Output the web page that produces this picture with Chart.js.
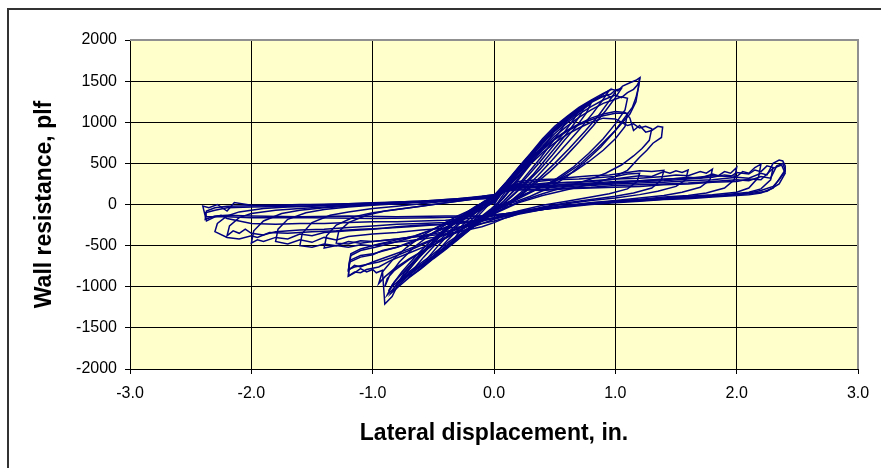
<!DOCTYPE html>
<html lang="en">
<head>
<meta charset="UTF-8">
<title>Wall resistance vs lateral displacement</title>
<script src="https://cdn.jsdelivr.net/npm/chart.js@4.4.1/dist/chart.umd.min.js"></script>
<style>
  html, body { margin: 0; padding: 0; background: #fff; }
  #wrap { width: 881px; height: 468px; }
</style>
</head>
<body>
<div id="wrap"><canvas id="grafica" width="881" height="468"></canvas></div>
<script>
// Axis ticks
const xTicks = [-3, -2, -1, 0, 1, 2, 3];
const yTicks = [-2000, -1500, -1000, -500, 0, 500, 1000, 1500, 2000];

// Test record: [displacement in., resistance plf], one array per cycle
// small cycles (steep band)
const loopA = [[0,0],[0.05,110],[0.1,220],[0.15,320],[0.2,410],[0.17,330],[0.1,170],[0.03,20],[-0.03,-60],[-0.1,-140],[-0.15,-210],[-0.2,-270],[-0.17,-200],[-0.1,-90],[-0.03,20],[0,60]];
const loopB = [[0,60],[0.1,230],[0.2,400],[0.3,560],[0.35,640],[0.3,520],[0.2,320],[0.1,130],[0.02,-20],[-0.1,-150],[-0.2,-280],[-0.3,-400],[-0.35,-460],[-0.3,-360],[-0.2,-210],[-0.1,-60],[0,70]];
const loopC = [[0,70],[0.1,240],[0.2,420],[0.3,590],[0.4,760],[0.5,910],[0.46,800],[0.38,640],[0.28,450],[0.18,260],[0.08,80],[0,-40],[-0.1,-160],[-0.2,-290],[-0.3,-420],[-0.4,-540],[-0.5,-650],[-0.46,-560],[-0.38,-430],[-0.28,-280],[-0.18,-140],[-0.08,0],[0,90]];
const loopC2 = [[0,40],[0.08,200],[0.16,350],[0.26,520],[0.36,690],[0.46,850],[0.55,980],[0.6,1020],[0.56,920],[0.48,760],[0.38,560],[0.28,380],[0.18,200],[0.08,40],[0,-70],[-0.1,-180],[-0.22,-320],[-0.34,-460],[-0.46,-600],[-0.56,-720],[-0.6,-770],[-0.55,-660],[-0.46,-500],[-0.36,-340],[-0.24,-170],[-0.12,-30],[0,60]];
const loopD = [[0,90],[0.1,250],[0.2,430],[0.3,600],[0.4,770],[0.5,920],[0.6,1040],[0.7,1150],[0.66,1040],[0.58,880],[0.48,700],[0.38,520],[0.28,350],[0.18,190],[0.08,40],[0,-60],[-0.1,-170],[-0.2,-300],[-0.3,-420],[-0.4,-540],[-0.5,-650],[-0.6,-770],[-0.7,-880],[-0.66,-780],[-0.58,-640],[-0.48,-480],[-0.38,-340],[-0.28,-210],[-0.18,-80],[-0.08,40],[0,80]];
const loopD2 = [[0,60],[0.1,240],[0.2,410],[0.3,580],[0.4,750],[0.5,900],[0.6,1030],[0.68,1110],[0.75,1190],[0.7,1060],[0.62,900],[0.52,720],[0.42,540],[0.32,360],[0.2,180],[0.1,40],[0,-80],[-0.12,-210],[-0.24,-350],[-0.36,-480],[-0.48,-610],[-0.6,-740],[-0.7,-850],[-0.76,-920],[-0.7,-790],[-0.6,-610],[-0.48,-420],[-0.36,-260],[-0.22,-100],[-0.1,20],[0,110]];
const loopE = [[0,80],[0.1,230],[0.2,400],[0.3,570],[0.4,740],[0.5,890],[0.6,1010],[0.7,1120],[0.8,1230],[0.76,1110],[0.68,950],[0.58,780],[0.48,600],[0.38,430],[0.26,250],[0.14,90],[0.04,-40],[-0.08,-160],[-0.2,-290],[-0.32,-420],[-0.44,-560],[-0.56,-690],[-0.68,-810],[-0.78,-930],[-0.74,-830],[-0.64,-660],[-0.52,-470],[-0.4,-300],[-0.28,-150],[-0.15,-20],[0,90]];
const loopF = [[0,90],[0.1,240],[0.2,420],[0.3,590],[0.4,760],[0.5,910],[0.6,1040],[0.7,1150],[0.8,1240],[0.88,1300],[0.93,1330],[0.97,1300],[1.0,1370],[0.95,1260],[0.86,1080],[0.75,890],[0.62,680],[0.5,500],[0.38,330],[0.25,160],[0.12,20],[0,-80],[-0.12,-200],[-0.25,-330],[-0.38,-460],[-0.5,-600],[-0.62,-730],[-0.74,-860],[-0.84,-1000],[-0.87,-1050],[-0.82,-940],[-0.72,-780],[-0.6,-590],[-0.48,-420],[-0.36,-270],[-0.24,-130],[-0.12,-10],[0,100]];
const loopF2 = [[0,110],[0.1,270],[0.2,440],[0.3,610],[0.4,770],[0.5,920],[0.6,1050],[0.7,1160],[0.8,1250],[0.9,1320],[0.96,1340],[1.0,1390],[1.05,1410],[1.0,1300],[0.92,1140],[0.82,960],[0.7,760],[0.58,570],[0.46,400],[0.32,230],[0.18,60],[0.05,-70],[-0.08,-180],[-0.2,-300],[-0.32,-430],[-0.44,-560],[-0.56,-690],[-0.68,-820],[-0.78,-950],[-0.88,-1100],[-0.84,-980],[-0.76,-820],[-0.64,-620],[-0.52,-440],[-0.4,-290],[-0.28,-160],[-0.14,-30],[0,80]];
const loopG = [[0,100],[0.1,260],[0.2,440],[0.3,610],[0.4,780],[0.5,930],[0.6,1060],[0.7,1170],[0.8,1260],[0.87,1310],[0.92,1360],[0.95,1390],[0.9,1280],[0.82,1120],[0.72,940],[0.6,740],[0.48,540],[0.36,350],[0.24,170],[0.12,20],[0,-90],[-0.1,-190],[-0.2,-310],[-0.3,-430],[-0.4,-550],[-0.5,-660],[-0.6,-780],[-0.7,-890],[-0.78,-990],[-0.85,-1080],[-0.8,-960],[-0.72,-820],[-0.62,-650],[-0.5,-470],[-0.38,-300],[-0.26,-150],[-0.14,-20],[0,100]];
// peak cycles
const peakH = [[0,100],[0.1,270],[0.2,450],[0.3,620],[0.4,800],[0.5,950],[0.6,1070],[0.7,1180],[0.8,1270],[0.9,1350],[0.97,1400],[1.02,1380],[1.06,1440],[1.12,1480],[1.17,1510],[1.2,1540],[1.19,1420],[1.17,1300],[1.14,1180],[1.1,1100],[1.0,900],[0.88,700],[0.75,520],[0.6,340],[0.45,200],[0.3,100],[0.15,20],[0,-60],[-0.1,-150],[-0.2,-270],[-0.3,-390],[-0.4,-510],[-0.5,-630],[-0.6,-750],[-0.7,-860],[-0.8,-1000],[-0.84,-1120],[-0.9,-1210],[-0.91,-1000],[-0.92,-800],[-0.97,-830],[-1.0,-790],[-1.05,-820],[-1.1,-780],[-1.15,-830],[-1.2,-870],[-1.19,-700],[-1.1,-640],[-1.0,-610],[-0.92,-560],[-0.8,-520],[-0.69,-470],[-0.55,-380],[-0.4,-280],[-0.25,-170],[-0.1,-50],[0,30]];
const peakI = [[0,30],[0.1,220],[0.2,390],[0.3,550],[0.4,710],[0.5,860],[0.6,990],[0.7,1100],[0.8,1190],[0.9,1270],[1.0,1330],[1.05,1300],[1.1,1360],[1.15,1400],[1.18,1450],[1.2,1510],[1.17,1250],[1.12,1100],[1.0,900],[0.85,680],[0.7,480],[0.55,330],[0.4,220],[0.25,120],[0.1,20],[0,-60],[-0.1,-150],[-0.25,-280],[-0.4,-410],[-0.55,-540],[-0.7,-670],[-0.82,-800],[-0.88,-900],[-0.9,-1000],[-0.86,-860],[-0.78,-700],[-0.66,-520],[-0.52,-360],[-0.38,-230],[-0.24,-120],[-0.1,-20],[0,20]];
const peakI2 = [[0,80],[0.1,230],[0.2,390],[0.3,540],[0.4,690],[0.5,830],[0.6,950],[0.7,1060],[0.8,1150],[0.9,1230],[1.0,1280],[1.05,1310],[1.1,1290],[1.08,1150],[1.0,980],[0.9,800],[0.78,620],[0.65,450],[0.5,300],[0.35,180],[0.2,70],[0.05,-50],[-0.1,-160],[-0.25,-290],[-0.4,-410],[-0.55,-530],[-0.7,-660],[-0.82,-780],[-0.9,-880],[-0.95,-960],[-0.92,-820],[-0.84,-680],[-0.72,-520],[-0.58,-370],[-0.44,-250],[-0.3,-140],[-0.15,-40],[0,40]];
// mid cycles after peak
const midJ = [[0,20],[0.1,200],[0.2,370],[0.3,530],[0.4,680],[0.5,800],[0.6,900],[0.7,980],[0.8,1050],[0.9,1100],[1.0,1130],[1.08,1120],[1.12,1050],[1.15,900],[1.2,960],[1.25,880],[1.3,900],[1.35,950],[1.39,940],[1.38,815],[1.31,745],[1.26,660],[1.2,575],[1.1,415],[0.98,330],[0.82,255],[0.6,180],[0.4,110],[0.2,20],[0.05,-80],[-0.1,-180],[-0.25,-290],[-0.4,-400],[-0.55,-500],[-0.7,-590],[-0.85,-680],[-0.95,-760],[-1.05,-790],[-1.1,-830],[-1.15,-820],[-1.2,-870],[-1.19,-680],[-1.1,-620],[-1.0,-600],[-0.9,-560],[-0.8,-520],[-0.7,-460],[-0.55,-380],[-0.4,-280],[-0.25,-180],[-0.1,-60],[0,30]];
const midJ2 = [[0,40],[0.1,190],[0.2,340],[0.3,490],[0.4,630],[0.5,750],[0.6,850],[0.7,930],[0.8,1000],[0.9,1050],[1.0,1040],[1.05,1000],[1.1,960],[1.15,980],[1.2,930],[1.25,950],[1.3,920],[1.28,780],[1.22,680],[1.15,590],[1.05,480],[0.92,380],[0.78,300],[0.6,220],[0.4,130],[0.2,30],[0.05,-70],[-0.1,-170],[-0.3,-300],[-0.5,-420],[-0.7,-540],[-0.85,-620],[-1.0,-700],[-1.1,-760],[-1.15,-740],[-1.2,-800],[-1.18,-620],[-1.1,-560],[-0.98,-520],[-0.85,-470],[-0.7,-410],[-0.55,-330],[-0.4,-240],[-0.25,-150],[-0.1,-40],[0,40]];
const midK = [[0,30],[0.1,190],[0.2,350],[0.3,510],[0.4,660],[0.5,790],[0.6,890],[0.7,970],[0.8,1030],[0.9,1080],[1.0,1110],[1.1,1110],[1.08,950],[1.0,800],[0.9,660],[0.78,520],[0.66,400],[0.5,280],[0.35,190],[0.2,90],[0.05,-40],[-0.1,-150],[-0.3,-290],[-0.5,-430],[-0.7,-560],[-0.85,-650],[-0.95,-700],[-1.05,-730],[-1.15,-760],[-1.2,-790],[-1.18,-600],[-1.1,-540],[-0.95,-480],[-0.8,-430],[-0.65,-380],[-0.5,-300],[-0.35,-200],[-0.2,-100],[-0.05,20],[0,50]];
const midL = [[0,50],[0.1,200],[0.2,280],[0.35,300],[0.5,310],[0.65,330],[0.8,350],[0.95,360],[1.1,390],[1.2,410],[1.3,400],[1.4,415],[1.38,300],[1.3,200],[1.15,140],[1.0,100],[0.8,60],[0.6,20],[0.4,-30],[0.2,-100],[0,-180],[-0.15,-260],[-0.3,-340],[-0.5,-400],[-0.7,-440],[-0.9,-470],[-1.0,-500],[-1.1,-490],[-1.2,-520],[-1.3,-500],[-1.4,-530],[-1.38,-380],[-1.3,-250],[-1.15,-150],[-1.0,-100],[-0.8,-60],[-0.6,-20],[-0.4,20],[-0.2,60],[0,80]];
const midL2 = [[0,80],[0.1,190],[0.2,260],[0.35,280],[0.5,300],[0.7,310],[0.9,330],[1.0,340],[1.1,370],[1.2,380],[1.18,280],[1.1,190],[0.95,130],[0.8,90],[0.6,40],[0.4,-10],[0.2,-80],[0,-160],[-0.2,-250],[-0.4,-330],[-0.6,-380],[-0.8,-420],[-1.0,-450],[-1.1,-440],[-1.2,-480],[-1.3,-470],[-1.28,-330],[-1.2,-220],[-1.05,-130],[-0.9,-80],[-0.7,-40],[-0.5,0],[-0.3,40],[-0.1,80],[0,100]];
// large pinched cycles
const bigM = [[0,80],[0.1,180],[0.2,240],[0.35,250],[0.5,270],[0.65,260],[0.8,290],[0.95,300],[1.1,330],[1.2,350],[1.3,340],[1.4,400],[1.45,380],[1.5,410],[1.55,390],[1.6,420],[1.58,300],[1.5,220],[1.35,160],[1.2,120],[1.0,80],[0.8,50],[0.6,10],[0.4,-40],[0.25,-90],[0.1,-160],[0,-220],[-0.1,-270],[-0.25,-320],[-0.4,-360],[-0.55,-380],[-0.7,-400],[-0.85,-430],[-1.0,-450],[-1.1,-470],[-1.2,-450],[-1.3,-500],[-1.4,-480],[-1.5,-520],[-1.6,-500],[-1.58,-350],[-1.5,-220],[-1.35,-130],[-1.2,-90],[-1.0,-50],[-0.8,-20],[-0.6,10],[-0.4,40],[-0.2,70],[0,110]];
const bigN = [[0,110],[0.1,210],[0.2,250],[0.4,240],[0.6,270],[0.8,280],[1.0,310],[1.2,320],[1.4,340],[1.5,360],[1.6,350],[1.7,400],[1.75,380],[1.8,430],[1.78,300],[1.7,210],[1.55,150],[1.4,110],[1.2,80],[1.0,50],[0.8,20],[0.6,-10],[0.4,-60],[0.2,-120],[0,-200],[-0.2,-260],[-0.4,-290],[-0.6,-310],[-0.8,-340],[-1.0,-360],[-1.2,-390],[-1.3,-430],[-1.4,-400],[-1.5,-460],[-1.6,-430],[-1.7,-480],[-1.8,-450],[-1.78,-300],[-1.7,-180],[-1.55,-100],[-1.4,-60],[-1.2,-30],[-1.0,-10],[-0.8,10],[-0.6,30],[-0.4,50],[-0.2,80],[0,120]];
const bigO = [[0,120],[0.1,200],[0.2,230],[0.4,220],[0.6,250],[0.8,240],[1.0,270],[1.2,290],[1.4,300],[1.6,330],[1.7,320],[1.8,370],[1.85,350],[1.9,400],[1.95,380],[2.0,450],[1.98,300],[1.9,200],[1.75,140],[1.6,110],[1.4,90],[1.2,60],[1.0,40],[0.8,20],[0.6,-20],[0.4,-60],[0.2,-110],[0,-170],[-0.2,-220],[-0.4,-240],[-0.6,-250],[-0.8,-270],[-1.0,-300],[-1.2,-320],[-1.4,-340],[-1.5,-380],[-1.6,-360],[-1.7,-420],[-1.8,-400],[-1.9,-450],[-1.95,-430],[-2.0,-470],[-1.98,-320],[-1.9,-200],[-1.75,-110],[-1.6,-70],[-1.4,-40],[-1.2,-20],[-1.0,0],[-0.8,10],[-0.6,30],[-0.4,50],[-0.2,70],[0,110]];
const bigP = [[0,110],[0.1,190],[0.2,220],[0.4,210],[0.6,230],[0.8,250],[1.0,260],[1.2,280],[1.4,290],[1.6,310],[1.8,330],[1.9,360],[2.0,340],[2.05,400],[2.1,380],[2.15,450],[2.2,490],[2.18,330],[2.1,200],[2.0,150],[1.8,120],[1.6,100],[1.4,80],[1.2,60],[1.0,40],[0.8,10],[0.6,-20],[0.4,-60],[0.2,-100],[0,-160],[-0.2,-200],[-0.4,-220],[-0.6,-230],[-0.8,-240],[-1.0,-260],[-1.2,-280],[-1.4,-300],[-1.6,-310],[-1.8,-330],[-1.9,-370],[-2.0,-350],[-2.05,-300],[-2.1,-350],[-2.15,-320],[-2.2,-380],[-2.18,-260],[-2.1,-160],[-2.0,-110],[-1.8,-70],[-1.6,-50],[-1.4,-30],[-1.2,-10],[-1.0,0],[-0.8,20],[-0.6,30],[-0.4,50],[-0.2,70],[0,100]];
const bigS = [[0,90],[0.1,170],[0.2,210],[0.4,230],[0.6,240],[0.8,260],[1.0,280],[1.2,290],[1.4,310],[1.6,320],[1.8,350],[1.95,340],[2.0,390],[2.1,370],[2.15,420],[2.2,400],[2.25,470],[2.3,450],[2.28,300],[2.2,190],[2.1,150],[1.9,120],[1.7,100],[1.5,80],[1.3,60],[1.1,45],[0.9,25],[0.7,0],[0.5,-35],[0.3,-80],[0.1,-140],[-0.1,-190],[-0.3,-230],[-0.5,-250],[-0.7,-270],[-0.9,-290],[-1.1,-300],[-1.3,-320],[-1.5,-330],[-1.7,-350],[-1.85,-340],[-1.95,-400],[-2.0,-380],[-2.1,-420],[-2.2,-400],[-2.3,-330],[-2.28,-230],[-2.2,-140],[-2.1,-90],[-1.9,-50],[-1.7,-30],[-1.5,-20],[-1.3,-5],[-1.1,10],[-0.9,20],[-0.7,35],[-0.5,50],[-0.3,70],[-0.1,100],[0,120]];
const bigQ = [[0,100],[0.1,180],[0.2,210],[0.4,200],[0.6,220],[0.8,230],[1.0,250],[1.2,260],[1.4,270],[1.6,290],[1.8,300],[2.0,330],[2.1,320],[2.2,380],[2.25,360],[2.3,500],[2.35,540],[2.38,530],[2.4,470],[2.4,400],[2.35,300],[2.3,220],[2.2,170],[2.1,140],[2.0,120],[1.8,100],[1.6,80],[1.4,70],[1.2,50],[1.0,30],[0.8,10],[0.6,-20],[0.4,-50],[0.2,-90],[0,-140],[-0.2,-170],[-0.4,-190],[-0.6,-200],[-0.8,-210],[-1.0,-210],[-1.2,-220],[-1.4,-230],[-1.6,-230],[-1.8,-240],[-2.0,-230],[-2.1,-200],[-2.2,-170],[-2.25,-130],[-2.3,-150],[-2.37,-200],[-2.4,-20],[-2.35,-40],[-2.28,0],[-2.2,-80],[-2.14,25],[-2.0,-10],[-1.8,-10],[-1.6,0],[-1.4,0],[-1.2,10],[-1.0,20],[-0.8,30],[-0.6,40],[-0.4,60],[-0.2,80],[0,100]];
const bigR = [[0,100],[0.1,170],[0.2,190],[0.4,180],[0.6,200],[0.8,210],[1.0,230],[1.2,240],[1.4,250],[1.6,260],[1.8,280],[2.0,300],[2.1,290],[2.2,340],[2.28,320],[2.33,470],[2.38,500],[2.4,420],[2.3,200],[2.2,140],[2.1,120],[2.0,110],[1.8,90],[1.6,70],[1.4,60],[1.2,40],[1.0,20],[0.8,0],[0.6,-30],[0.4,-60],[0.2,-90],[0,-130],[-0.2,-150],[-0.5,-160],[-1.0,-170],[-1.5,-160],[-2.0,-160],[-2.2,-150],[-2.37,-150],[-2.38,-100],[-2.3,-70],[-2.2,-40],[-2.0,-30],[-1.6,-20],[-1.2,0],[-0.8,20],[-0.4,50],[0,90]];
const bigT = [[0,120],[0.1,160],[0.2,180],[0.4,170],[0.6,190],[0.8,200],[1.0,210],[1.2,220],[1.4,240],[1.6,250],[1.8,270],[2.0,280],[2.1,310],[2.2,300],[2.3,440],[2.37,480],[2.4,380],[2.35,250],[2.25,160],[2.1,130],[1.9,110],[1.7,90],[1.5,75],[1.3,55],[1.1,40],[0.9,20],[0.7,0],[0.5,-30],[0.3,-60],[0.1,-110],[-0.1,-140],[-0.4,-140],[-0.8,-150],[-1.2,-140],[-1.6,-150],[-2.0,-140],[-2.2,-130],[-2.3,-140],[-2.38,-180],[-2.37,-80],[-2.3,-40],[-2.2,-20],[-2.0,-15],[-1.6,-5],[-1.2,10],[-0.8,25],[-0.4,45],[0,80]];

const ciclos = [loopA, loopB, loopC, loopC2, loopD, loopD2, loopE, loopF, loopF2, loopG,
  peakH, peakI, peakI2, midJ, midJ2, midK, midL, midL2,
  bigM, bigN, bigO, bigP, bigS, bigQ, bigR, bigT];

const fuente = "'Liberation Sans', Arial, sans-serif";

// Plot background, outer frame and grey top/right plot border
const marco = {
  id: 'marco',
  beforeDraw(chart) {
    const {ctx, chartArea: a} = chart;
    ctx.save();
    ctx.fillStyle = '#fff';
    ctx.fillRect(0, 0, chart.width, chart.height);
    ctx.fillStyle = '#FFFFCC';
    ctx.fillRect(a.left, a.top, a.right - a.left, a.bottom - a.top);
    ctx.strokeStyle = '#333';
    ctx.lineWidth = 2;
    ctx.beginPath();
    ctx.moveTo(8, chart.height + 2);
    ctx.lineTo(8, 9);
    ctx.lineTo(chart.width + 2, 9);
    ctx.stroke();
    ctx.restore();
  },
  afterDraw(chart) {
    const {ctx, chartArea: a} = chart;
    ctx.save();
    ctx.strokeStyle = '#909090';
    ctx.lineWidth = 2;
    ctx.beginPath();
    ctx.moveTo(a.left, a.top);
    ctx.lineTo(a.right, a.top);
    ctx.lineTo(a.right, a.bottom);
    ctx.stroke();
    ctx.restore();
  }
};

new Chart(document.getElementById('grafica'), {
  type: 'scatter',
  data: {
    datasets: ciclos.map(c => ({
      data: c.map(p => ({x: p[0], y: p[1]})),
      showLine: true,
      borderColor: '#000080',
      borderWidth: 1.5,
      pointRadius: 0,
      tension: 0
    }))
  },
  options: {
    responsive: false,
    animation: false,
    layout: { padding: { left: 0, top: 40, right: 23, bottom: 0 } },
    plugins: { legend: { display: false }, tooltip: { enabled: false } },
    scales: {
      x: {
        type: 'linear',
        min: -3, max: 3,
        afterBuildTicks: s => { s.ticks = xTicks.map(v => ({value: v})); },
        afterFit: s => { s.height = 99; },
        ticks: {
          color: '#000',
          font: { family: fuente, size: 16 },
          padding: 10,
          callback: v => v.toFixed(1)
        },
        grid: {
          color: c => (c.tick && c.tick.value === 3) ? 'rgba(0,0,0,0)' : '#000',
          tickColor: '#000',
          tickLength: 5,
          lineWidth: 1
        },
        border: { color: '#000', width: 1 },
        title: {
          display: true,
          text: 'Lateral displacement, in.',
          color: '#000',
          font: { family: fuente, size: 23, weight: 'bold' },
          padding: { top: 0, bottom: 21 }
        }
      },
      y: {
        type: 'linear',
        min: -2000, max: 2000,
        afterBuildTicks: s => { s.ticks = yTicks.map(v => ({value: v})); },
        afterFit: s => { s.width = 130; },
        ticks: {
          color: '#000',
          font: { family: fuente, size: 16 },
          padding: 8,
          callback: v => String(v)
        },
        grid: {
          color: c => (c.tick && c.tick.value === 2000) ? 'rgba(0,0,0,0)' : '#000',
          tickColor: '#000',
          tickLength: 5,
          lineWidth: 1
        },
        border: { color: '#000', width: 1 },
        title: {
          display: true,
          text: 'Wall resistance, plf',
          color: '#000',
          font: { family: fuente, size: 23, weight: 'bold' },
          padding: { top: 31, bottom: 0 }
        }
      }
    }
  },
  plugins: [marco]
});
</script>
</body>
</html>
